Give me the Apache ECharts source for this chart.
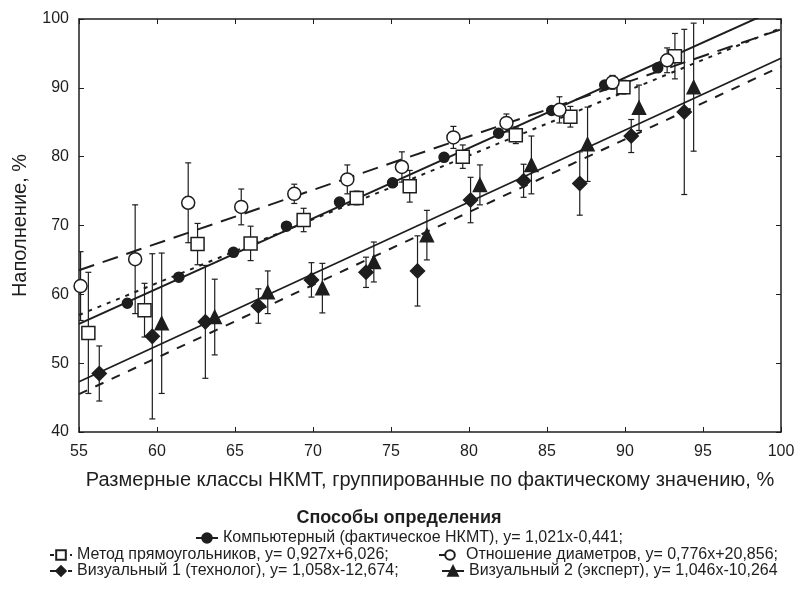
<!DOCTYPE html>
<html>
<head>
<meta charset="utf-8">
<script src="https://cdn.jsdelivr.net/npm/echarts@6/dist/echarts.min.js"></script>
<style>
  html, body { margin: 0; padding: 0; background: #fff; }
  #chart { width: 798px; height: 589px; }
</style>
</head>
<body>
<div id="chart"></div>
<script>
  // названия способов
  var names = [
    'Компьютерный (фактическое НКМТ)',
    'Метод прямоугольников',
    'Отношение диаметров',
    'Визуальный 1 (технолог)',
    'Визуальный 2 (эксперт)'
  ];
  var equations = [
    'y= 1,021x-0,441;',
    'y= 0,927x+6,026;',
    'y= 0,776x+20,856;',
    'y= 1,058x-12,674;',
    'y= 1,046x-10,264'
  ];

  // компьютерный
  var compX = [58.1, 61.4, 64.9, 68.3, 71.7, 75.1, 78.4, 81.9, 85.3, 88.7, 92.1];
  var compY = [58.7, 62.5, 66.1, 69.9, 73.4, 76.2, 79.9, 83.4, 86.7, 90.4, 92.9];
  var compErr = [0.6, 0.5, 0.5, 0.5, 0.5, 0.5, 0.5, 0.5, 0.5, 0.5, 0.6];

  // метод прямоугольников
  var rectX = [55.6, 59.2, 62.6, 66.0, 69.4, 72.8, 76.2, 79.6, 83.0, 86.5, 89.9, 93.2];
  var rectY = [54.4, 57.7, 67.3, 67.4, 70.8, 74.0, 75.7, 80.0, 83.1, 85.8, 90.1, 94.6];
  var rectErr = [8.8, 3.9, 3.0, 2.5, 1.7, 1.0, 2.3, 1.7, 1.2, 1.5, 1.0, 3.3];

  // отношение диаметров
  var diamX = [55.1, 58.6, 62.0, 65.4, 68.8, 72.2, 75.7, 79.0, 82.4, 85.8, 89.2, 92.7];
  var diamY = [61.2, 65.1, 73.3, 72.7, 74.6, 76.7, 78.5, 82.8, 84.9, 86.8, 90.8, 94.0];
  var diamErr = [5.0, 7.9, 5.8, 2.6, 1.4, 2.1, 2.2, 1.6, 1.3, 1.9, 1.0, 1.8];

  // визуальный 1
  var vis1X = [56.3, 59.7, 63.1, 66.5, 69.9, 73.4, 76.7, 80.1, 83.5, 87.1, 90.4, 93.8];
  var vis1Y = [48.5, 53.9, 56.0, 58.3, 62.1, 63.2, 63.4, 73.7, 76.5, 76.1, 83.0, 86.5];
  var vis1Err = [4.0, 12.0, 8.2, 2.5, 2.5, 2.2, 5.1, 3.3, 2.4, 4.6, 2.4, 12.0];

  // визуальный 2
  var vis2X = [60.3, 63.7, 67.1, 70.6, 73.9, 77.3, 80.7, 84.0, 87.6, 90.9, 94.4];
  var vis2Y = [55.8, 56.7, 60.3, 60.9, 64.7, 68.6, 75.9, 78.8, 81.8, 87.1, 90.1];
  var vis2Err = [10.2, 5.5, 3.1, 3.6, 2.9, 3.6, 2.9, 4.2, 5.4, 3.3, 9.3];

  // линии регрессии: значения на краях оси (x = 55 и x = 100)
  var fitX = [55, 100];
  var fitStart = [55.7, 57.0, 63.5, 45.5, 47.3];
  var fitEnd = [101.7, 98.7, 98.5, 93.1, 94.3];

  var ink = '#1e1e1e';
  var groups = [
    { x: compX, y: compY, e: compErr, symbol: 'circle', size: 10, fill: ink, dash: 'solid', w: 2 },
    { x: rectX, y: rectY, e: rectErr, symbol: 'rect', size: 13, fill: '#fff', dash: [4, 6], w: 2 },
    { x: diamX, y: diamY, e: diamErr, symbol: 'circle', size: 13, fill: '#fff', dash: [16, 9], w: 2 },
    { x: vis1X, y: vis1Y, e: vis1Err, symbol: 'diamond', size: 14, fill: ink, dash: [9, 9], w: 2 },
    { x: vis2X, y: vis2Y, e: vis2Err, symbol: 'triangle', size: 13, fill: ink, dash: 'solid', w: 1.8 }
  ];

  function errorBar(params, api) {
    var x = api.value(0);
    var lo = api.coord([x, api.value(1)]);
    var hi = api.coord([x, api.value(2)]);
    var cap = 3;
    var st = { stroke: ink, lineWidth: 1.2 };
    return {
      type: 'group',
      children: [
        { type: 'line', shape: { x1: lo[0], y1: lo[1], x2: hi[0], y2: hi[1] }, style: st },
        { type: 'line', shape: { x1: hi[0] - cap, y1: hi[1], x2: hi[0] + cap, y2: hi[1] }, style: st },
        { type: 'line', shape: { x1: lo[0] - cap, y1: lo[1], x2: lo[0] + cap, y2: lo[1] }, style: st }
      ]
    };
  }

  var series = [];
  groups.forEach(function (g, i) {
    series.push({
      name: names[i],
      type: 'line',
      data: [[fitX[0], fitStart[i]], [fitX[1], fitEnd[i]]],
      symbol: g.symbol,
      symbolSize: g.size,
      showSymbol: false,
      clip: true,
      silent: true,
      lineStyle: { color: ink, width: g.w, type: g.dash },
      itemStyle: { color: g.fill, borderColor: ink, borderWidth: 1.5 },
      z: 2
    });
    series.push({
      name: names[i],
      type: 'custom',
      renderItem: errorBar,
      clip: true,
      data: g.x.map(function (x, k) { return [x, g.y[k] - g.e[k], g.y[k] + g.e[k]]; }),
      z: 3
    });
    series.push({
      name: names[i],
      type: 'scatter',
      data: g.x.map(function (x, k) { return [x, g.y[k]]; }),
      symbol: g.symbol,
      symbolSize: g.size,
      itemStyle: { color: g.fill, borderColor: ink, borderWidth: 1.5, opacity: 1 },
      z: 4
    });
  });

  // одна легенда на каждый способ, чтобы разложить их по строкам как в оригинале
  function legendItem(i, left, top) {
    return {
      left: left,
      top: top,
      orient: 'horizontal',
      itemWidth: 22,
      itemHeight: 12,
      textStyle: { fontFamily: 'Liberation Sans', fontSize: 16, color: ink },
      formatter: function (name) {
        return name + ', ' + equations[names.indexOf(name)];
      },
      selectedMode: false,
      data: [names[i]]
    };
  }

  var chart = echarts.init(document.getElementById('chart'));
  chart.setOption({
    animation: false,
    backgroundColor: '#fff',
    title: {
      text: 'Способы определения',
      left: 'center',
      top: 504,
      textStyle: { fontFamily: 'Liberation Sans', fontSize: 18, fontWeight: 'bold', color: ink }
    },
    legend: [
      legendItem(0, 190, 525),
      legendItem(1, 44, 542),
      legendItem(2, 433, 542),
      legendItem(3, 44, 558),
      legendItem(4, 436, 558)
    ],
    grid: { left: 79, right: 17, top: 19, bottom: 157 },
    xAxis: [{
      type: 'value',
      min: 55, max: 100, interval: 5,
      name: 'Размерные классы НКМТ, группированные по фактическому значению, %',
      nameLocation: 'middle',
      nameGap: 38,
      nameTextStyle: { fontFamily: 'Liberation Sans', fontSize: 20, color: ink },
      axisLine: { lineStyle: { color: ink, width: 1.5 } },
      axisTick: { inside: true, length: 5, lineStyle: { color: ink } },
      axisLabel: { fontFamily: 'Liberation Sans', fontSize: 16, color: ink, margin: 12 },
      splitLine: { show: false }
    }, {
      type: 'value',
      position: 'top',
      min: 55, max: 100, interval: 5,
      axisLine: { show: true, lineStyle: { color: ink, width: 1.5 } },
      axisTick: { inside: true, length: 5, lineStyle: { color: ink } },
      axisLabel: { show: false },
      splitLine: { show: false }
    }],
    yAxis: [{
      type: 'value',
      min: 40, max: 100, interval: 10,
      name: 'Наполнение, %',
      nameLocation: 'middle',
      nameGap: 49,
      nameTextStyle: { fontFamily: 'Liberation Sans', fontSize: 20, color: ink },
      axisLine: { show: true, lineStyle: { color: ink, width: 1.5 } },
      axisTick: { show: true, inside: true, length: 5, lineStyle: { color: ink } },
      axisLabel: { fontFamily: 'Liberation Sans', fontSize: 16, color: ink, margin: 10 },
      splitLine: { show: false }
    }, {
      type: 'value',
      position: 'right',
      min: 40, max: 100, interval: 10,
      axisLine: { show: true, lineStyle: { color: ink, width: 1.5 } },
      axisTick: { show: true, inside: true, length: 5, lineStyle: { color: ink } },
      axisLabel: { show: false },
      splitLine: { show: false }
    }],
    series: series
  });
</script>
</body>
</html>
